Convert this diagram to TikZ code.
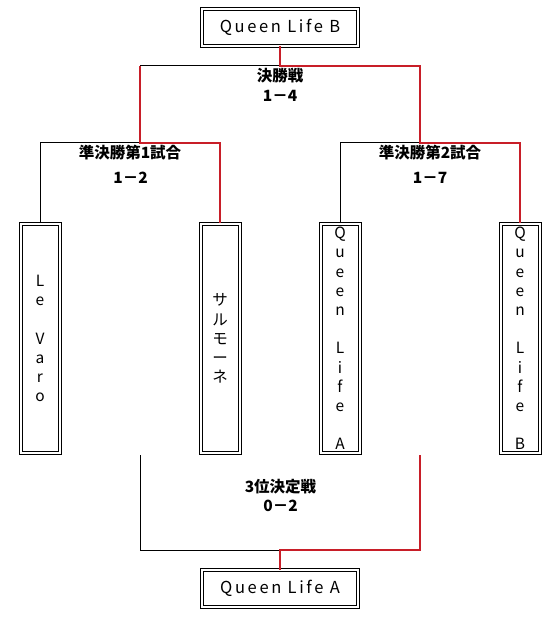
\documentclass[tikz,border=0pt]{standalone}
\usepackage{fontspec}
\setmainfont{Noto Sans CJK JP}
\newfontfamily\widefont[LetterSpace=16]{Noto Sans CJK JP}
\usepackage{tikz}
\usetikzlibrary{positioning}
\definecolor{winred}{RGB}{200,30,40}
\tikzset{
	every node/.style = {font=\fontsize{15.5}{19.2}\selectfont, inner sep=0pt},
	team/.style = {rectangle, draw, double, double distance=2pt, line width=1pt,
		minimum width=156pt, minimum height=37pt,
		font=\widefont\fontsize{16.5}{19}\selectfont},
	vteam/.style = {rectangle, draw, double, double distance=2pt, line width=1pt,
		minimum width=39pt, minimum height=229pt, align=center},
	score/.style = {font=\fontsize{15.5}{19.2}\selectfont\bfseries},
	win/.style = {draw=winred, line width=2pt},
	lose/.style = {draw=black, line width=1pt},
}

\begin{document}
\begin{tikzpicture}[x=1pt, y=-1pt]
	\useasboundingbox (0,0) rectangle (549,617);
	% teams
	\node (champ) [team] at (280,27.5) {Queen Life B};
	\node (levaro) [vteam] at (40,338.5) {L\\e\\\mbox{}\\V\\a\\r\\o};
	\node (salmone) [vteam] at (220,338.5) {サ\\ル\\モ\\ー\\ネ};
	\node (qla) [vteam] at (340,338.5) {Q\\u\\e\\e\\n\\\mbox{}\\L\\i\\f\\e\\\mbox{}\\A};
	\node (qlb) [vteam] at (520,338.5) {Q\\u\\e\\e\\n\\\mbox{}\\L\\i\\f\\e\\\mbox{}\\B};
	\node (third) [team] at (280,588.5) {Queen Life A};
	% junctions
	\coordinate (fin) at (280,66);
	\coordinate (finl) at (140,66);
	\coordinate (finr) at (420,66);
	\coordinate (semi1) at (140,143);
	\coordinate (semi2) at (420,143);
	\coordinate (bronze) at (280,550);
	\coordinate (loser1) at (140,455);
	\coordinate (loser2) at (420,455);
	% labels
	\node (finlab) [score] at (280,76) {決勝戦};
	\node (finscore) [score] at (280,96) {1－4};
	\node (semi1lab) [score] at (130,152.5) {準決勝第1試合};
	\node (semi1score) [score] at (130.5,178) {1－2};
	\node (semi2lab) [score] at (430,152.5) {準決勝第2試合};
	\node (semi2score) [score] at (430,178) {1－7};
	\node (bronzelab) [score] at (280.5,486.5) {3位決定戦};
	\node (bronzescore) [score] at (280.5,505.5) {0－2};
	% losing lines
	\draw[lose] (fin) -- (finl);
	\draw[lose] (semi1) -| (levaro);
	\draw[lose] (semi2) -| (qla);
	\draw[lose] (loser1) |- (bronze);
	% winning lines
	\draw[win] (champ) -- (fin) -- (finr) -- (semi2) -| (qlb);
	\draw[win] (finl) -- (semi1) -| (salmone);
	\draw[win] (loser2) |- (bronze) -- (third);
\end{tikzpicture}
\end{document}
